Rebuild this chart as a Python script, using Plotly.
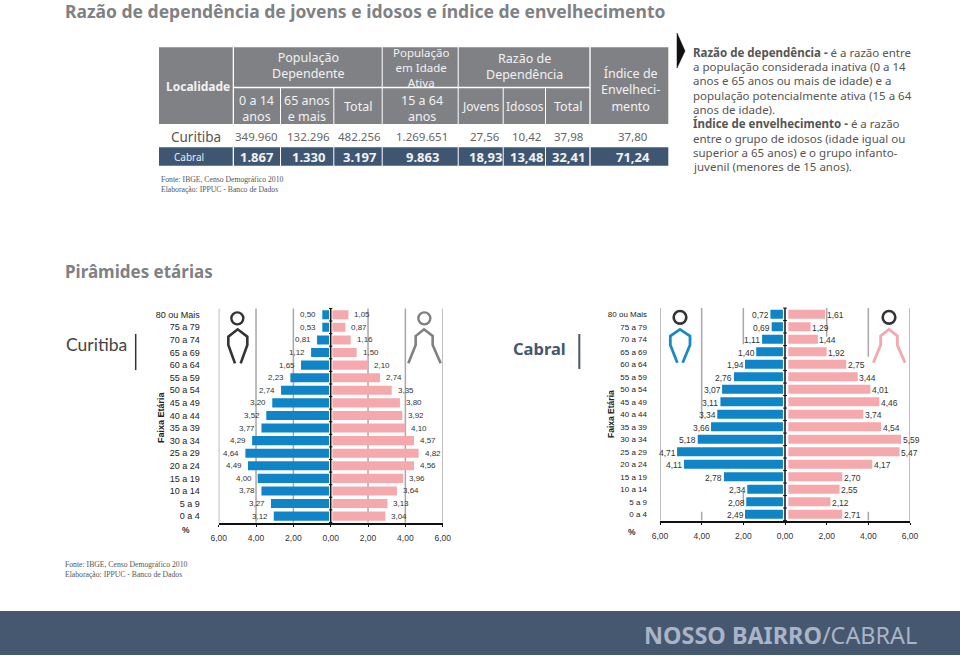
import plotly.graph_objects as go

W, H = 960, 656

# ---------- data ----------
age_groups = ["80 ou Mais", "75 a 79", "70 a 74", "65 a 69", "60 a 64", "55 a 59", "50 a 54", "45 a 49", "40 a 44",
              "35 a 39", "30 a 34", "25 a 29", "20 a 24", "15 a 19", "10 a 14", "5 a 9", "0 a 4"]
axis_values = [-6, -4, -2, 0, 2, 4, 6]
axis_labels = ["6,00", "4,00", "2,00", "0,00", "2,00", "4,00", "6,00"]

curitiba_male_bars = [0.45, 0.45, 0.73, 1.05, 1.59, 2.16, 2.66, 3.13, 3.45, 3.71, 4.21, 4.57, 4.43, 3.91, 3.71, 3.20, 3.05]
curitiba_female_bars = [0.95, 0.79, 1.07, 1.39, 2.00, 2.64, 3.27, 3.71, 3.84, 4.00, 4.46, 4.71, 4.46, 3.88, 3.55, 3.04, 2.93]
curitiba_male_labels = ["0,50", "0,53", "0,81", "1,12", "1,65", "2,23", "2,74", "3,20", "3,52", "3,77", "4,29", "4,64",
                        "4,49", "4,00", "3,78", "3,27", "3,12"]
curitiba_female_labels = ["1,05", "0,87", "1,16", "1,50", "2,10", "2,74", "3,35", "3,80", "3,92", "4,10", "4,57", "4,82",
                          "4,56", "3,96", "3,64", "3,13", "3,04"]

cabral_male_bars = [0.70, 0.64, 1.10, 1.38, 1.92, 2.45, 3.02, 3.10, 3.25, 3.55, 4.19, 5.18, 4.85, 2.93, 1.81, 1.86, 1.92]
cabral_female_bars = [1.92, 1.23, 1.58, 2.00, 2.94, 3.49, 4.10, 4.53, 3.76, 4.61, 5.57, 5.50, 4.19, 2.75, 2.62, 2.18, 2.75]
cabral_male_labels = ["0,72", "0,69", "1,11", "1,40", "1,94", "2,76", "3,07", "3,11", "3,34", "3,66", "5,18", "4,71",
                      "4,11", "2,78", "2,34", "2,08", "2,49"]
cabral_female_labels = ["1,61", "1,29", "1,44", "1,92", "2,75", "3,44", "4,01", "4,46", "3,74", "4,54", "5,59", "5,47",
                        "4,17", "2,70", "2,55", "2,12", "2,71"]

table_curitiba = ["349.960", "132.296", "482.256", "1.269.651", "27,56", "10,42", "37,98", "37,80"]
table_cabral = ["1.867", "1.330", "3.197", "9.863", "18,93", "13,48", "32,41", "71,24"]

definition_lines = [
    "<b>Razão de dependência - </b>é a razão entre",
    "a população considerada inativa (0 a 14",
    "anos e 65 anos ou mais de idade) e a",
    "população potencialmente ativa (15 a 64",
    "anos de idade).",
    "<b>Índice de envelhecimento - </b>é a razão",
    "entre o grupo de idosos (idade igual ou",
    "superior a 65 anos) e o grupo infanto-",
    "juvenil (menores de 15 anos).",
]

# ---------- helpers ----------
GRAY, NAVY = "#808184", "#3f5673"
MALE, FEMALE = "#0f85c7", "#f6a9ad"
SANS, ARIAL, SERIF = "Noto Sans", "Liberation Sans", "Liberation Serif"
annotations, shapes = [], []


def fx(x):
    return x / W


def fy(y):
    return 1 - y / H


def text(x, y, s, size=12, color="#555555", anchor="center", font=SANS, angle=0):
    annotations.append(dict(x=fx(x - 2 if anchor == "left" else x), y=fy(y), xref="paper", yref="paper", text=s,
                            showarrow=False, xanchor=anchor, yanchor="middle", textangle=angle,
                            font=dict(size=size, color=color, family=font)))


def rect(x0, y0, x1, y1, color):
    shapes.append(dict(type="rect", xref="paper", yref="paper", x0=fx(x0), x1=fx(x1), y0=fy(y0), y1=fy(y1),
                       fillcolor=color, line=dict(width=0), layer="below"))


def polyline(pts, color, width, close=False, fill=None):
    d = "M " + " L ".join(f"{fx(a):.5f},{fy(b):.5f}" for a, b in pts) + (" Z" if close else "")
    shapes.append(dict(type="path", xref="paper", yref="paper", path=d, layer="above",
                       line=dict(color=color, width=width), fillcolor=fill or "rgba(0,0,0,0)"))


def circle(cx, cy, r, color, width):
    shapes.append(dict(type="circle", xref="paper", yref="paper", x0=fx(cx - r), x1=fx(cx + r), y0=fy(cy + r),
                       y1=fy(cy - r), line=dict(color=color, width=width), layer="above"))


fig = go.Figure()
layout_axes = {}


def pyramid(idx, left, right, top, bottom, male, female, mlab, flab, shift, lab_size, cat_size, standoff,
            gap_l, gap_r, grid_segments, dy):
    sx = "" if idx == 1 else str(idx)
    xa, ya = f"x{sx}", f"y{sx}"
    fig.add_trace(go.Bar(x=[-v for v in male], y=age_groups, orientation="h", marker=dict(color=MALE, line=dict(width=0)),
                         xaxis=xa, yaxis=ya, showlegend=False))
    fig.add_trace(go.Bar(x=female, y=age_groups, orientation="h", marker=dict(color=FEMALE, line=dict(width=0)),
                         xaxis=xa, yaxis=ya, showlegend=False))
    layout_axes[f"xaxis{sx}"] = dict(domain=[fx(left), fx(right)], range=[-6, 6], anchor=ya, tickvals=axis_values,
                                     ticktext=axis_labels, showgrid=False, zeroline=False,
                                     showline=True, linecolor="#111111", linewidth=1.5, ticks="outside", ticklen=2,
                                     tickcolor="#111111", ticklabelstandoff=4,
                                     tickfont=dict(size=8.5, family=ARIAL, color="#333333"))
    layout_axes[f"yaxis{sx}"] = dict(domain=[fy(bottom), fy(top)], anchor=xa, type="category",
                                     categoryorder="array", categoryarray=age_groups, autorange="reversed",
                                     showgrid=False, zeroline=False, showline=False, ticks="",
                                     ticklabelstandoff=standoff, tickfont=dict(size=cat_size, family=ARIAL, color="#222222"))
    # grid lines, possibly interrupted
    for xv, a, b in grid_segments:
        shapes.append(dict(type="line", xref=xa, yref=ya, x0=xv, x1=xv, y0=a, y1=b, layer="below",
                           line=dict(color="#a8a8a8", width=1.5)))
    # white gap around the zero axis, then the axis and its ticks
    shapes.append(dict(type="rect", xref=xa, yref=ya, x0=-gap_l, x1=gap_r, y0=-0.5, y1=16.5, layer="above",
                       fillcolor="white", line=dict(width=0)))
    shapes.append(dict(type="line", xref=xa, yref=ya, x0=0, x1=0, y0=-0.5, y1=16.5, layer="above",
                       line=dict(color="#111111", width=1.5)))
    for i in range(18):
        shapes.append(dict(type="line", xref=xa, yref=ya, x0=-0.09, x1=0.09, y0=i - 0.5, y1=i - 0.5, layer="above",
                           line=dict(color="#111111", width=1)))
    for cat, v, s in zip(age_groups, male, mlab):
        annotations.append(dict(x=-v, y=cat, xref=xa, yref=ya, text=s, showarrow=False, xshift=-shift, yshift=dy,
                                font=dict(size=lab_size, family=ARIAL, color="#333333")))
    for cat, v, s in zip(age_groups, female, flab):
        annotations.append(dict(x=v, y=cat, xref=xa, yref=ya, text=s, showarrow=False, xshift=shift, yshift=dy,
                                font=dict(size=lab_size, family=ARIAL, color="#333333")))


full = (-0.5, 16.5)
pyramid(1, 218.7, 442.7, 307.7, 523.2, curitiba_male_bars, curitiba_female_bars, curitiba_male_labels,
        curitiba_female_labels, 14, 8, 9, 18, 0.09, 0.09,
        [(v, *full) for v in (-6, -4, -2, 2, 4, 6)], 0)
pyramid(2, 660, 910, 306.3, 521.3, cabral_male_bars, cabral_female_bars, cabral_male_labels,
        cabral_female_labels, 10, 8.5, 8, 12, 0.1, 0.16,
        [(-6, *full), (6, *full), (-4, -0.5, 8.4), (-4, 15.8, 16.5), (4, -0.5, 3.4), (4, 15.8, 16.5),
         (-2, -0.5, 2.4), (-2, 14.2, 15.2), (2, -0.5, 1.8)], -1)

# ---------- page furniture ----------
rect(0, 611, 960, 655, "#46586f")
text(644, 635, "<b>NOSSO BAIRRO</b>/CABRAL", 23.4, "#a9b4c6", "left")
text(65, 11, "<b>Razão de dependência de jovens e idosos e índice de envelhecimento</b>", 17.5, GRAY, "left")
text(65, 271, "<b>Pirâmides etárias</b>", 17, GRAY, "left")

# table
col_edges = [(159, 232.7), (234, 280), (281, 333.3), (334.3, 381.7), (382.7, 457.7), (458.7, 502.7), (503.7, 545),
             (546, 589.3), (590.7, 668.3)]
rect(col_edges[0][0], 47.3, col_edges[0][1], 124, GRAY)
rect(234, 47.3, 381.7, 86.7, GRAY)
rect(382.7, 47.3, 457.7, 86.7, GRAY)
rect(458.7, 47.3, 589.3, 86.7, GRAY)
for e in col_edges[1:8]:
    rect(e[0], 88.3, e[1], 124, GRAY)
rect(col_edges[8][0], 47.3, col_edges[8][1], 124, GRAY)
for e in col_edges:
    rect(e[0], 147.3, e[1], 165.7, NAVY)

HC = "#f2f2f2"
for x, y, s, z in [
    (197.7, 86.7, "<b>Localidade</b>", 12), (308, 66, "População<br>Dependente", 12.5),
    (420.5, 68, "População<br>em Idade<br>Ativa", 11.5),
    (524.7, 66.5, "Razão de<br>Dependência", 12.5),
    (630, 90, "Índice de<br>Envelheci-<br>mento", 12.5),
    (256.7, 108, "0 a 14<br>anos", 12.5), (307, 108, "65 anos<br>e mais", 12.5),
    (358, 106, "Total", 12.5), (421.7, 108, "15 a 64<br>anos", 12.5),
    (481, 106, "Jovens", 12), (524.7, 106, "Idosos", 12), (567.5, 106, "Total", 12.5),
]:
    text(x, y, s, z, HC)

value_x = [256.7, 308, 359, 422, 485, 526, 568, 633]
text(195.5, 136.7, "Curitiba", 13.5, "#555555")
text(188.7, 157, "Cabral", 10, "#e8ecf2")
for x, a, b in zip(value_x, table_curitiba, table_cabral):
    text(x, 136.7, a, 11.5, "#666666")
    text(x, 157, f"<b>{b}</b>", 13, "#f2f2f2")

for y, s in [(179, "Fonte: IBGE, Censo Demográfico 2010"), (189, "Elaboração: IPPUC - Banco de Dados")]:
    text(161, y, s, 7.7, "#555555", "left", SERIF)
for y, s in [(564, "Fonte: IBGE, Censo Demográfico 2010"), (574, "Elaboração: IPPUC - Banco de Dados")]:
    text(65, y, s, 7.7, "#555555", "left", SERIF)

# definitions
polyline([(677, 33), (685, 51), (677, 68)], "#111111", 0.5, close=True, fill="#111111")
for i, s in enumerate(definition_lines):
    text(692.7, 52.3 + i * 14.33, s, 11.5, "#555555", "left")

# side titles
text(65.7, 344, "Curitiba", 17.5, "#444444", "left", "Lato")
polyline([(135.7, 334), (135.7, 370)], "#333333", 1.5)
text(512.7, 348, "<b>Cabral</b>", 16.5, "#46566f", "left")
polyline([(579.3, 334), (579.3, 369)], "#46566f", 2)

# axis captions
text(161, 417, "<b>Faixa Etária</b>", 9, "#222222", font=ARIAL, angle=-90)
text(611, 414, "<b>Faixa Etária</b>", 8.5, "#222222", font=ARIAL, angle=-90)
text(186, 530, "<b>%</b>", 8.5, "#333333", font=ARIAL)
text(632, 532, "<b>%</b>", 8.5, "#333333", font=ARIAL)


# figures
def icon(ox, oy, cx, cy, r, ring, ring_w, body, body_c, body_w):
    circle(ox + cx / 3, oy + cy / 3, r / 3, ring, ring_w)
    polyline([(ox + a / 3, oy + b / 3) for a, b in body], body_c, body_w)


male1 = [(285, 190), (265, 135), (265, 110), (293, 88), (322, 110), (322, 135), (302, 190)]
fem1 = [(805, 190), (827, 135), (827, 108), (852, 88), (878, 108), (878, 135), (902, 190)]
male2 = [(262, 188), (241, 135), (241, 108), (270, 88), (300, 108), (300, 135), (278, 188)]
fem2 = [(850, 188), (872, 135), (872, 108), (897, 88), (922, 108), (922, 135), (945, 188)]
icon(140, 300, 292, 55, 18, "#333333", 2.4, male1, "#333333", 2.6)
icon(140, 300, 853, 55, 18, "#808080", 2.4, fem1, "#808080", 2.6)
icon(590, 300, 270, 52, 19, "#333333", 2.6, male2, "#1b8ac4", 2.8)
icon(590, 300, 897, 52, 19, "#333333", 2.6, fem2, "#f4a8ad", 2.8)

fig.update_layout(width=W, height=H, margin=dict(l=0, r=0, t=0, b=0, autoexpand=False), autosize=False,
                  paper_bgcolor="white", plot_bgcolor="white", barmode="overlay", bargap=0.28, showlegend=False,
                  annotations=annotations, shapes=shapes, **layout_axes)
fig.write_html("out.html", config=dict(displayModeBar=False, responsive=False),
               post_script="document.body.style.margin='0';document.documentElement.style.margin='0';")
